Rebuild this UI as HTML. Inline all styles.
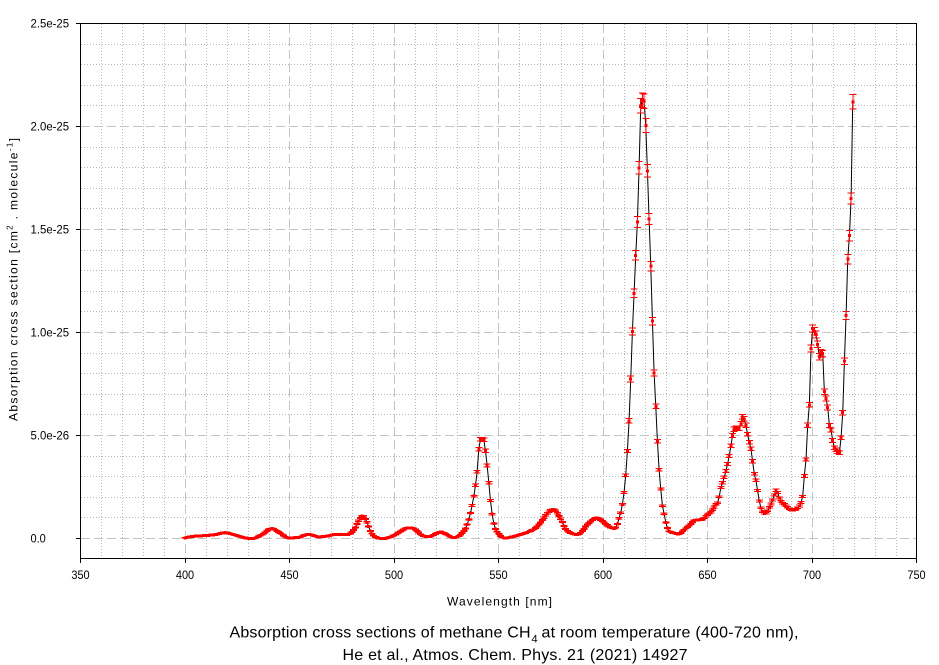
<!DOCTYPE html>
<html><head><meta charset="utf-8"><style>
html,body{margin:0;padding:0;background:#fff;}
svg{display:block;}
text{font-family:"Liberation Sans",Arial,sans-serif;fill:#000;}
</style></head><body>
<svg id="c" width="939" height="665" viewBox="0 0 939 665" xmlns="http://www.w3.org/2000/svg">
<rect width="939" height="665" fill="#fff"/>
<g id="grid"></g>
<path id="blk" fill="none" stroke="#000" stroke-width="1"/>
<path id="err" fill="none" stroke="#ff0000" stroke-width="1" shape-rendering="crispEdges"/>
<path id="mk" fill="#ff0000" stroke="none" shape-rendering="crispEdges"/>
<rect x="80.5" y="23.5" width="836" height="535" fill="none" stroke="#000" stroke-width="1" shape-rendering="crispEdges"/>
<g id="ticks" stroke="#000" stroke-width="1" shape-rendering="crispEdges"></g>

<g font-size="11.5">
<text x="30.5" y="27.5" textLength="38.6" lengthAdjust="spacingAndGlyphs">2.5e-25</text>
<text x="30.5" y="130.5" textLength="38.6" lengthAdjust="spacingAndGlyphs">2.0e-25</text>
<text x="30.5" y="233.5" textLength="38.6" lengthAdjust="spacingAndGlyphs">1.5e-25</text>
<text x="30.5" y="336.5" textLength="38.6" lengthAdjust="spacingAndGlyphs">1.0e-25</text>
<text x="30.5" y="439.5" textLength="38.6" lengthAdjust="spacingAndGlyphs">5.0e-26</text>
<text x="30.5" y="542.5" textLength="15.3" lengthAdjust="spacingAndGlyphs">0.0</text>
</g>
<g font-size="11.5" text-anchor="middle">
<text x="80.5" y="579" textLength="18.3" lengthAdjust="spacingAndGlyphs">350</text>
<text x="185" y="579" textLength="18.3" lengthAdjust="spacingAndGlyphs">400</text>
<text x="289.5" y="579" textLength="18.3" lengthAdjust="spacingAndGlyphs">450</text>
<text x="394" y="579" textLength="18.3" lengthAdjust="spacingAndGlyphs">500</text>
<text x="498.5" y="579" textLength="18.3" lengthAdjust="spacingAndGlyphs">550</text>
<text x="603" y="579" textLength="18.3" lengthAdjust="spacingAndGlyphs">600</text>
<text x="707.5" y="579" textLength="18.3" lengthAdjust="spacingAndGlyphs">650</text>
<text x="812" y="579" textLength="18.3" lengthAdjust="spacingAndGlyphs">700</text>
<text x="916.5" y="579" textLength="18.3" lengthAdjust="spacingAndGlyphs">750</text>
</g>

<text x="447" y="605.5" font-size="12" textLength="105" lengthAdjust="spacing">Wavelength [nm]</text>

<text transform="translate(17.5,421) rotate(-90)" font-size="12" textLength="283" lengthAdjust="spacing">Absorption cross section [cm<tspan dy="-5" font-size="8">2</tspan><tspan dy="5"> . molecule</tspan><tspan dy="-5" font-size="8">-1</tspan><tspan dy="5">]</tspan></text>

<text x="229.5" y="637.5" font-size="16" textLength="301" lengthAdjust="spacing">Absorption cross sections of methane CH</text>
<text x="531.5" y="642.5" font-size="11">4</text>
<text x="541.5" y="637.5" font-size="16" textLength="257" lengthAdjust="spacing">at room temperature (400-720 nm),</text>
<text x="342.5" y="660" font-size="16" textLength="345" lengthAdjust="spacing">He et al., Atmos. Chem. Phys. 21 (2021) 14927</text>
</svg>
<script>
(function(){
var NS="http://www.w3.org/2000/svg";
function X(nm){return 80.5+(nm-350)*2.09;}
function Y(v){return 538.5-v*20.6;}
var grid=document.getElementById("grid");
function line(x1,y1,x2,y2,stroke,dash,parent){
  var l=document.createElementNS(NS,"line");
  l.setAttribute("x1",x1);l.setAttribute("y1",y1);l.setAttribute("x2",x2);l.setAttribute("y2",y2);
  if(stroke)l.setAttribute("stroke",stroke);
  if(dash)l.setAttribute("stroke-dasharray",dash);
  l.setAttribute("stroke-width","1");
  l.setAttribute("shape-rendering","crispEdges");
  parent.appendChild(l);
}
for(var nm=360;nm<750;nm+=10){
  if(nm%50===0)continue;
  var x=Math.round(X(nm))+0.5;
  line(x,24,x,558,"#b8b8b8","1 2",grid);
}
for(var v=1;v<25;v++){
  if(v%5===0)continue;
  var y=Math.round(Y(v)-0.5)+0.5;
  line(81,y,916,y,"#b8b8b8","1 2",grid);
}
for(var nm=400;nm<750;nm+=50){
  var x=Math.round(X(nm)-0.5)+0.5;
  line(x,24,x,558,"#c4c4c4","9 4",grid);
}
for(var v=0;v<25;v+=5){
  var y=Math.round(Y(v)-0.5)+0.5;
  line(81,y,916,y,"#c4c4c4","9 4",grid);
}
var tk=document.getElementById("ticks");
for(var v=0;v<=25;v+=5){var y=Math.round(Y(v)-0.5)+0.5;line(76,y,80,y,null,null,tk);}
for(var nm=350;nm<=750;nm+=50){var x=Math.round(X(nm)-0.5)+0.5;line(x,559,x,563,null,null,tk);}

var P=[[400,0.03],[405,0.12],[410,0.14],[415,0.2],[419,0.28],[424,0.16],[428,0.05],[432,0.0],[437,0.2],[441.5,0.49],[445,0.3],[449.5,0.03],[454,0.05],[459,0.2],[464,0.08],[468,0.12],[472,0.2],[478,0.2],[481,0.45],[483,0.85],[485,1.1],[487,0.8],[489,0.3],[491,0.08],[494.5,0.0],[500,0.15],[504,0.4],[507,0.52],[510,0.45],[513.5,0.15],[517,0.1],[522.3,0.32],[525,0.2],[528.5,0.05],[532,0.2],[534.9,0.65],[536.5,1.2],[538,1.94],[539.7,3.16],[541.2,4.82],[542.8,4.82],[544.1,3.97],[545.2,2.9],[546,2.0],[547.6,0.8],[550,0.24],[553.2,0.03],[558,0.12],[562,0.24],[566,0.4],[568.4,0.56],[571,0.9],[573.2,1.21],[576.3,1.41],[578.7,1.13],[580.5,0.8],[581.9,0.49],[584,0.3],[587.5,0.19],[590,0.35],[592.3,0.65],[595,0.9],[597,1.0],[599,0.9],[601,0.73],[603,0.58],[605,0.49],[606.5,0.6],[607.4,0.89],[609,1.5],[610.6,2.75],[612.2,5.18],[613.0,6.96],[613.8,9.39],[614.6,11.25],[615.4,13.2],[616.2,14.82],[617.0,16.76],[617.8,20.57],[618.6,21.22],[619.4,21.3],[620.2,20.6],[621,18.54],[621.8,16.28],[622.6,13.85],[623.4,11.74],[623.9,9.39],[624.7,7.53],[625.5,5.91],[626.3,4.21],[627.1,2.99],[627.9,2.14],[628.5,1.54],[629.3,1.17],[630.1,0.76],[631.3,0.4],[633.7,0.27],[636.1,0.21],[638.5,0.4],[641.7,0.68],[644.1,0.89],[647.3,0.92],[649.7,1.13],[652.1,1.34],[653.7,1.62],[655.3,1.86],[656.1,2.35],[657.6,2.83],[658.9,3.32],[660.0,3.8],[660.9,4.29],[661.7,4.86],[663.2,5.35],[665.3,5.35],[666.9,5.91],[668.0,5.67],[669.1,5.1],[670.1,4.62],[671.2,4.13],[672.0,3.32],[672.8,3.0],[673.6,2.59],[674.4,2.02],[675.5,1.51],[677.6,1.21],[679.7,1.54],[681.3,1.9],[682.9,2.35],[684.8,1.86],[687.2,1.62],[690.4,1.38],[692.8,1.46],[695.2,1.9],[696.0,2.4],[696.7,3.67],[697.2,3.89],[698.0,5.62],[698.8,6.64],[699.5,9.15],[700.4,10.2],[701.5,9.96],[702.3,9.8],[703.5,8.82],[704.2,8.99],[705.0,9.15],[705.5,7.72],[706.3,6.88],[707.1,6.72],[708.3,5.5],[709.2,5.23],[710.3,4.53],[711.6,4.29],[713.2,4.16],[714.0,5.02],[714.8,6.32],[715.6,8.9],[716.5,11.4],[717.3,14.1],[717.9,14.7],[718.7,16.5],[719.5,21.2]];
var n=P.length,xs=[],ys=[],d=[],m=[];
for(var i=0;i<n;i++){xs.push(P[i][0]);ys.push(P[i][1]);}
for(var i=0;i<n-1;i++)d.push((ys[i+1]-ys[i])/(xs[i+1]-xs[i]));
m[0]=d[0];m[n-1]=d[n-2];
for(var i=1;i<n-1;i++){m[i]=(d[i-1]*d[i]<=0)?0:(d[i-1]+d[i])/2;}
for(var i=0;i<n-1;i++){
  if(d[i]===0){m[i]=0;m[i+1]=0;continue;}
  var a=m[i]/d[i],b=m[i+1]/d[i],s=a*a+b*b;
  if(s>9){var t=3/Math.sqrt(s);m[i]=t*a*d[i];m[i+1]=t*b*d[i];}
}
function f(x){
  var i=0;while(i<n-2&&x>xs[i+1])i++;
  var h=xs[i+1]-xs[i],t=(x-xs[i])/h;if(t<0)t=0;if(t>1)t=1;
  var t2=t*t,t3=t2*t;
  return (2*t3-3*t2+1)*ys[i]+(t3-2*t2+t)*h*m[i]+(-2*t3+3*t2)*ys[i+1]+(t3-t2)*h*m[i+1];
}
var N=400,lp="",ep="",mp="";
for(var k=0;k<=N;k++){
  var nm=400+k*319.5/N;
  var v=f(nm);if(v<-0.03)v=-0.03;
  var x=X(nm),y=Y(v);
  var xr=x.toFixed(2),yr=y.toFixed(2);
  lp+=(k?"L":"M")+xr+" "+yr;
  var e=0.3+0.33*Math.max(v,0);
  var y1=(y-e).toFixed(2),y2=(y+e).toFixed(2);
  var xa=(x-3.5).toFixed(2),xb=(x+3.5).toFixed(2);
  ep+="M"+xa+" "+y1+"H"+xb+"M"+xr+" "+y1+"V"+y2+"M"+xa+" "+y2+"H"+xb;
  mp+="M"+(x-1.5).toFixed(2)+" "+(y-1.5).toFixed(2)+"h3v3h-3z";
}
document.getElementById("blk").setAttribute("d",lp);
document.getElementById("err").setAttribute("d",ep);
document.getElementById("mk").setAttribute("d",mp);
})();
</script>
</body></html>
